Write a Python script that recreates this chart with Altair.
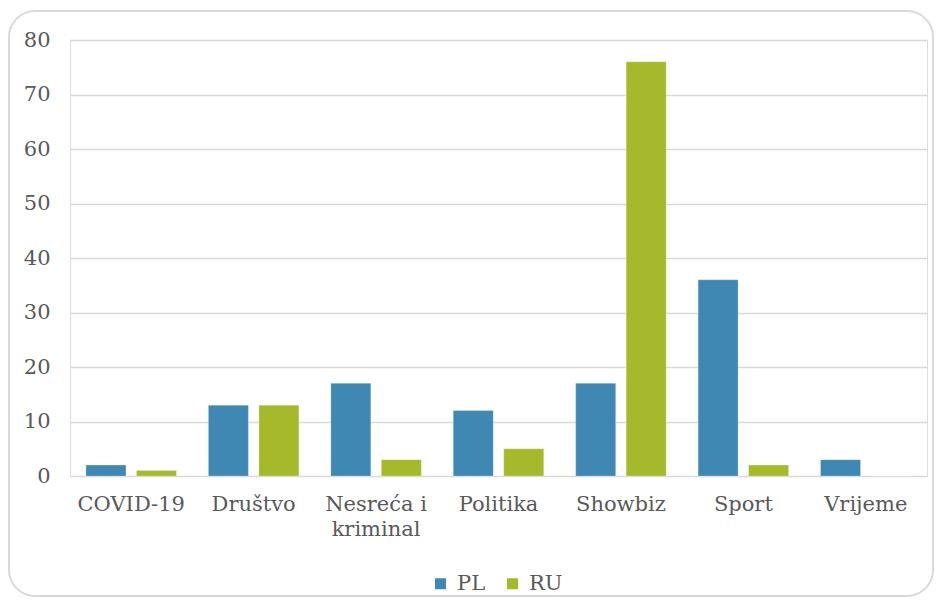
import altair as alt
import pandas as pd

categories = ["COVID-19", "Društvo", "Nesreća i kriminal", "Politika", "Showbiz", "Sport", "Vrijeme"]
pl_values = [2, 13, 17, 12, 17, 36, 3]
ru_values = [1, 13, 3, 5, 76, 2, 0]
series = ["PL", "RU"]
colors = ["#3f88b3", "#a5b92a"]
y_ticks = [0, 10, 20, 30, 40, 50, 60, 70, 80]

rows = []
for c, p, r in zip(categories, pl_values, ru_values):
    rows.append({"kategorija": c, "serija": "PL", "vrijednost": p})
    rows.append({"kategorija": c, "serija": "RU", "vrijednost": r})
df = pd.DataFrame(rows)

FONT = "DejaVu Serif"
FS = 21
TXT = "#595959"

bars = alt.Chart(df).mark_bar(stroke="#ffffff", strokeWidth=0.5, strokeOpacity=0.5).encode(
    x=alt.X("kategorija:N", sort=categories,
            scale=alt.Scale(paddingInner=0, paddingOuter=0),
            axis=alt.Axis(title=None, labelAngle=0, ticks=False, domain=False,
                          labelPadding=17, labelFontSize=FS, labelFont=FONT,
                          labelColor=TXT, labelLineHeight=25, labelBaseline="top",
                          labelExpr="datum.label == 'Nesreća i kriminal' ? ['Nesreća i', 'kriminal'] : datum.label")),
    xOffset=alt.XOffset("serija:N", sort=series,
                        scale=alt.Scale(paddingInner=0.208, paddingOuter=0.316)),
    y=alt.Y("vrijednost:Q",
            scale=alt.Scale(domain=[0, 80], nice=False),
            axis=alt.Axis(title=None, values=y_ticks, ticks=False, domain=False,
                          labelPadding=20, labelFontSize=FS, labelFont=FONT,
                          labelColor=TXT, gridColor="#d9d9d9", gridWidth=1.5)),
    color=alt.Color("serija:N", sort=series,
                    scale=alt.Scale(domain=series, range=colors),
                    legend=alt.Legend(title=None, orient="none", direction="horizontal",
                                      legendX=360, legendY=533,
                                      symbolType="square", symbolSize=121,
                                      symbolStrokeWidth=0, labelFontSize=FS,
                                      labelFont=FONT, labelColor=TXT,
                                      labelOffset=6, columnPadding=16)),
)

border = alt.Chart(alt.Data(values=[{"b": 1}])).mark_rect(
    fill=None, stroke="#d9d9d9", strokeWidth=2, cornerRadius=26
).encode(
    x=alt.value(-61),
    x2=alt.value(863),
    y=alt.value(-29),
    y2=alt.value(556),
)

chart = alt.layer(border, bars).properties(
    width=857,
    height=436,
    padding={"left": 62, "top": 32, "right": 7, "bottom": 122},
    autosize=alt.AutoSizeParams(type="none"),
).configure_view(stroke=None).configure(background="#ffffff")

chart.save("out.html", embed_options={"renderer": "svg", "actions": False})
